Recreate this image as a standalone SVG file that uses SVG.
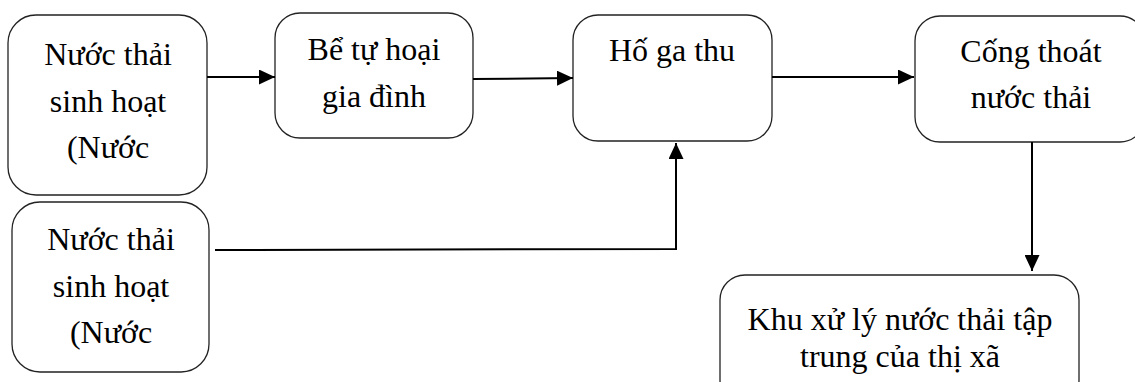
<svg xmlns="http://www.w3.org/2000/svg" width="1135" height="382" viewBox="0 0 1135 382">
<style>
.box{fill:#fff;stroke:#222;stroke-width:1.3}
.t{font-family:"Liberation Serif","Times New Roman",serif;font-size:32px;fill:#000;text-anchor:middle}
.c{fill:none;stroke:#000;stroke-width:2}
</style>
<defs>
<marker id="ah" markerWidth="16" markerHeight="15" refX="16" refY="7.5" orient="auto" markerUnits="userSpaceOnUse">
<path d="M0,0 L16,7.5 L0,15 Z" fill="#000"/>
</marker>
</defs>
<rect width="1135" height="382" fill="#fff"/>
<g id="n1">
<rect class="box" x="8" y="15" width="199" height="180" rx="28"/>
<text class="t" x="108" y="65">Nước thải</text>
<text class="t" x="108" y="112">sinh hoạt</text>
<text class="t" x="108" y="158">(Nước</text>
</g>
<g id="n2">
<rect class="box" x="275" y="13" width="198" height="125" rx="25"/>
<text class="t" x="374" y="60">Bể tự hoại</text>
<text class="t" x="374" y="107">gia đình</text>
</g>
<g id="n3">
<rect class="box" x="573" y="15" width="199" height="126" rx="25"/>
<text class="t" x="672" y="61">Hố ga thu</text>
</g>
<g id="n4">
<rect class="box" x="915" y="16" width="230" height="126" rx="25"/>
<text class="t" x="1031" y="62">Cống thoát</text>
<text class="t" x="1031" y="108">nước thải</text>
</g>
<g id="n5">
<rect class="box" x="12" y="202" width="197" height="170" rx="28"/>
<text class="t" x="111" y="250">Nước thải</text>
<text class="t" x="111" y="297">sinh hoạt</text>
<text class="t" x="111" y="343">(Nước</text>
</g>
<g id="n6">
<rect class="box" x="720" y="275" width="359" height="130" rx="25"/>
<text class="t" x="900" y="330">Khu xử lý nước thải tập</text>
<text class="t" x="900" y="367">trung của thị xã</text>
</g>
<g id="connectors">
<line class="c" x1="207" y1="77" x2="275" y2="77" marker-end="url(#ah)"/>
<line class="c" x1="473" y1="79" x2="573" y2="78" marker-end="url(#ah)"/>
<line class="c" x1="772" y1="77" x2="914" y2="77" marker-end="url(#ah)"/>
<polyline class="c" points="215,250 676,249 676,143" marker-end="url(#ah)"/>
<line class="c" x1="1032" y1="142" x2="1032" y2="271" marker-end="url(#ah)"/>
</g>
</svg>
